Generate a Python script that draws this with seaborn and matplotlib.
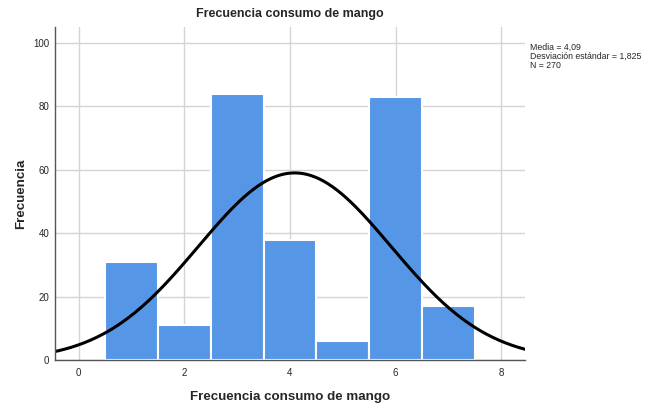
import numpy as np
import pandas as pd
import matplotlib
matplotlib.use("Agg")
import matplotlib.pyplot as plt
import seaborn as sns

# Data
consumo = [1, 2, 3, 4, 5, 6, 7]
frecuencia = [31, 11, 84, 38, 6, 83, 17]
media = 4.09
desv = 1.825
n_total = 270

df = pd.DataFrame({'consumo': consumo, 'frecuencia': frecuencia})

sns.set_style("whitegrid")
plt.rcParams['font.family'] = ['Liberation Sans', 'DejaVu Sans']

fig = plt.figure(figsize=(6.45, 4.05), dpi=100)
ax = fig.add_axes([0.085, 0.111, 0.729, 0.822])

sns.histplot(data=df, x='consumo', weights='frecuencia', discrete=True,
             color='#5596E6', alpha=1, edgecolor='white', linewidth=1.5, ax=ax)

# Normal curve from reported statistics (bin width 1)
xs = np.linspace(-0.5, 8.5, 300)
ys = n_total / (desv * np.sqrt(2 * np.pi)) * np.exp(-0.5 * ((xs - media) / desv) ** 2)
sns.lineplot(x=xs, y=ys, color='black', linewidth=2.2, ax=ax)

ax.set_xlim(-0.45, 8.45)
ax.set_ylim(0, 105)
ax.set_xticks([0, 2, 4, 6, 8])
ax.set_yticks([0, 20, 40, 60, 80, 100])
ax.tick_params(labelsize=7, length=0, pad=6)
ax.tick_params(axis='y', pad=4)
ax.grid(True, color='#d4d4d4', linewidth=1)
ax.set_axisbelow(True)
for side in ['top', 'right']:
    ax.spines[side].set_visible(False)
for side in ['left', 'bottom']:
    ax.spines[side].set_color('#555555')
    ax.spines[side].set_linewidth(1)

ax.set_title('Frecuencia consumo de mango', fontsize=9, fontweight='bold', pad=7)
ax.set_xlabel('Frecuencia consumo de mango', fontsize=9.6, fontweight='bold', labelpad=9)
ax.set_ylabel('Frecuencia', fontsize=9.6, fontweight='bold', labelpad=4)

fig.text(0.822, 0.895, 'Media = 4,09\nDesviación estándar = 1,825\nN = 270',
         fontsize=6.3, va='top', ha='left', linespacing=1.0)

fig.savefig('out.png', dpi=100)
